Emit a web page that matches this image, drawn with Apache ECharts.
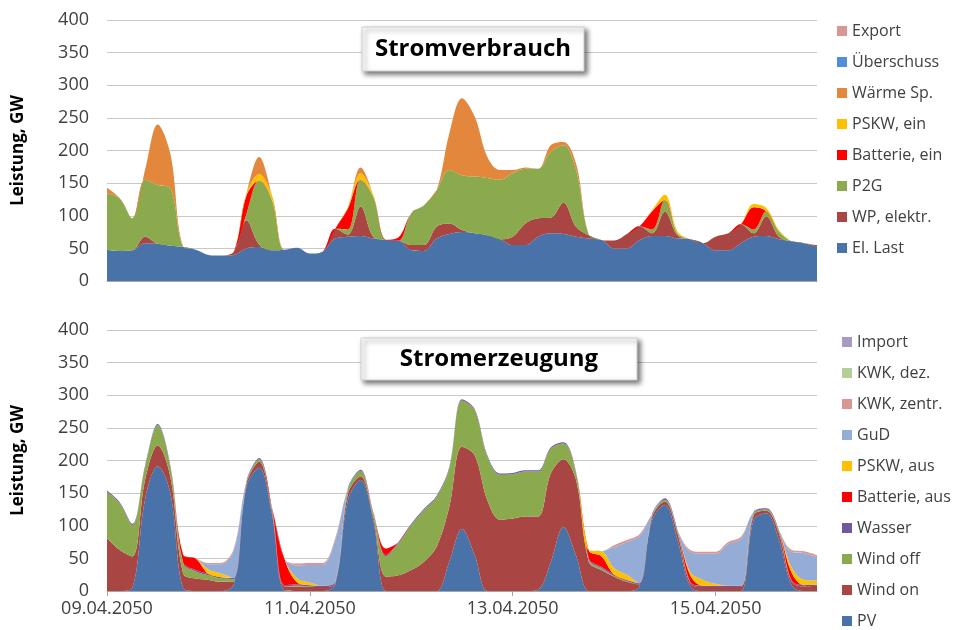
<!DOCTYPE html>
<html>
<head>
<meta charset="utf-8">
<title>Stromverbrauch / Stromerzeugung</title>
<script src="https://cdn.jsdelivr.net/npm/echarts@6.0.0/dist/echarts.min.js"></script>
<style>
  html, body { margin: 0; padding: 0; background: #fff; }
  #chart { width: 958px; height: 630px; }
</style>
</head>
<body>
<div id="chart"></div>
<script>
// Stundenwerte im 3h-Raster, 09.04.2050 00:00 bis 16.04.2050 00:00 (je Zeile ein Tag)
const dateLabels = ['09.04.2050', '11.04.2050', '13.04.2050', '15.04.2050'];
const hours = [];
for (let h = 0; h <= 168; h += 3) hours.push(h);

// --- Stromverbrauch (GW)
const elLast = [
  48, 46, 47, 58, 57, 54, 52, 48,
  40, 39, 40, 50, 52, 47, 48, 51,
  42, 45, 65, 68, 69, 65, 63, 62,
  47, 46, 65, 72, 75, 73, 70, 64,
  55, 55, 68, 73, 72, 68, 65, 63,
  50, 50, 63, 69, 69, 65, 64, 58,
  47, 47, 58, 68, 69, 64, 61, 58,
  53];
const wpElektr = [
  0, 0, 0, 10, 0, 0, 0, 0,
  0, 0, 5, 43, 4, 0, 0, 0,
  0, 0, 15, 3, 45, 3, 0, 0,
  8, 9, 18, 16, 3, 0, 0, 0,
  13, 33, 28, 24, 48, 15, 5, 0,
  12, 22, 21, 4, 37, 5, 0, 0,
  21, 26, 29, 5, 30, 4, 0, 0,
  2];
const p2g = [
  86, 81, 49, 87, 90, 88, 1, 0,
  0, 0, 0, 10, 98, 78, 0, 0,
  0, 0, 0, 8, 41, 61, 0, 0,
  49, 61, 56, 82, 84, 87, 88, 91,
  97, 84, 76, 101, 88, 87, 1, 0,
  0, 0, 0, 6, 18, 3, 0, 0,
  0, 0, 0, 6, 8, 8, 0, 0,
  0];
const batterieEin = [
  0, 0, 0, 0, 0, 0, 0, 0,
  0, 0, 0, 28, 0, 0, 0, 0,
  0, 0, 0, 32, 0, 0, 0, 5,
  0, 0, 0, 0, 0, 0, 0, 0,
  0, 0, 0, 0, 0, 0, 0, 0,
  0, 0, 0, 28, 0, 0, 0, 0,
  0, 0, 0, 34, 0, 0, 0, 0,
  0];
const pskwEin = [
  0, 0, 0, 0, 0, 0, 0, 0,
  0, 0, 0, 3, 10, 7, 0, 0,
  0, 0, 0, 2, 10, 3, 0, 0,
  0, 0, 0, 0, 0, 0, 0, 0,
  0, 0, 0, 0, 0, 0, 0, 0,
  0, 0, 0, 2, 8, 3, 0, 0,
  0, 0, 0, 5, 5, 2, 0, 0,
  0];
const waermeSp = [
  9, 0, 0, 15, 93, 53, 0, 0,
  0, 0, 0, 0, 26, 0, 0, 0,
  0, 0, 0, 0, 9, 0, 0, 0,
  0, 0, 0, 56, 118, 92, 32, 15,
  5, 2, 0, 10, 5, 10, 0, 0,
  0, 0, 0, 0, 0, 0, 0, 0,
  0, 0, 0, 0, 0, 0, 0, 0,
  0];
const ueberschuss = [
  0, 0, 0, 0, 0, 0, 0, 0,
  0, 0, 0, 0, 0, 0, 0, 0,
  0, 0, 0, 0, 0, 0, 0, 0,
  0, 0, 0, 0, 0, 0, 0, 0,
  0, 0, 0, 0, 0, 0, 0, 0,
  0, 0, 0, 0, 0, 0, 0, 0,
  0, 0, 0, 0, 0, 0, 0, 0,
  0];
const exportLast = [
  0, 0, 0, 0, 0, 0, 0, 0,
  0, 0, 0, 0, 0, 0, 0, 0,
  0, 0, 0, 0, 0, 0, 0, 0,
  0, 0, 0, 0, 0, 0, 0, 0,
  0, 0, 0, 0, 0, 0, 0, 0,
  0, 0, 0, 0, 0, 0, 0, 0,
  0, 0, 0, 0, 0, 0, 0, 0,
  0];

// --- Stromerzeugung (GW)
const pv = [
  0, 0, 5, 140, 191, 150, 5, 0,
  0, 0, 10, 160, 189, 119, 1, 0,
  0, 0, 10, 139, 170, 109, 0, 0,
  0, 0, 0, 45, 95, 55, 0, 0,
  0, 0, 2, 44, 98, 54, 0, 0,
  0, 0, 7, 109, 132, 78, 7, 0,
  0, 0, 0, 109, 119, 78, 9, 0,
  0];
const windOn = [
  81, 63, 48, 30, 32, 25, 22, 19,
  17, 14, 5, 4, 9, 5, 6, 7,
  6, 6, 2, 10, 6, 5, 22, 24,
  32, 45, 68, 84, 126, 153, 139, 109,
  111, 114, 112, 136, 104, 116, 45, 32,
  22, 14, 3, 5, 5, 10, 5, 6,
  6, 6, 6, 7, 4, 10, 5, 7,
  8];
const windOff = [
  71, 71, 48, 20, 31, 15, 15, 11,
  7, 5, 3, 2, 4, 3, 0, 1,
  1, 0, 0, 6, 8, 5, 31, 49,
  69, 79, 76, 59, 71, 69, 67, 69,
  68, 69, 69, 38, 24, 10, 3, 3,
  1, 1, 0, 2, 3, 3, 0, 0,
  0, 0, 0, 3, 2, 3, 0, 0,
  0];
const wasser = [
  2, 2, 2, 2, 2, 2, 2, 2,
  2, 2, 2, 2, 2, 2, 2, 2,
  2, 2, 2, 2, 2, 2, 2, 2,
  2, 2, 2, 2, 2, 2, 2, 2,
  2, 2, 2, 2, 2, 2, 2, 2,
  2, 2, 2, 2, 2, 2, 2, 2,
  2, 2, 2, 2, 2, 2, 2, 2,
  2];
const batterieAus = [
  0, 0, 0, 0, 0, 0, 12, 18,
  0, 0, 0, 0, 0, 0, 40, 3,
  0, 0, 0, 0, 0, 0, 10, 0,
  0, 0, 0, 0, 0, 0, 0, 0,
  0, 0, 0, 0, 0, 0, 12, 16,
  0, 0, 0, 0, 0, 0, 10, 0,
  0, 0, 0, 0, 0, 0, 12, 0,
  0];
const pskwAus = [
  0, 0, 0, 0, 0, 0, 0, 0,
  7, 6, 0, 0, 0, 0, 0, 6,
  4, 0, 0, 0, 0, 0, 0, 0,
  0, 0, 0, 0, 0, 0, 0, 0,
  0, 0, 0, 0, 0, 0, 0, 8,
  10, 8, 0, 0, 0, 0, 5, 9,
  3, 0, 0, 0, 0, 0, 8, 8,
  6];
const gud = [
  0, 0, 0, 0, 0, 0, 0, 0,
  8, 14, 42, 0, 0, 0, 0, 20,
  27, 32, 64, 0, 0, 0, 0, 0,
  0, 0, 0, 0, 0, 0, 0, 0,
  0, 0, 0, 0, 0, 0, 0, 0,
  32, 50, 72, 0, 0, 0, 31, 40,
  46, 64, 72, 0, 0, 0, 24, 41,
  36];
const kwkZentr = [
  0, 0, 0, 0, 0, 0, 0, 0,
  2, 2, 3, 0, 0, 0, 0, 3,
  3, 3, 3, 0, 0, 0, 0, 0,
  0, 0, 0, 0, 0, 0, 0, 0,
  0, 0, 0, 0, 0, 0, 0, 0,
  3, 3, 3, 0, 0, 0, 3, 3,
  3, 3, 3, 0, 0, 0, 3, 3,
  3];
const kwkDez = [
  0, 0, 0, 0, 0, 0, 0, 0,
  0, 0, 0, 0, 0, 0, 0, 0,
  0, 0, 0, 0, 0, 0, 0, 0,
  0, 0, 0, 0, 0, 0, 0, 0,
  0, 0, 0, 0, 0, 0, 0, 0,
  0, 0, 0, 0, 0, 0, 0, 0,
  0, 0, 0, 0, 0, 0, 0, 0,
  0];
const importErz = [
  0, 0, 0, 0, 0, 0, 0, 0,
  0, 0, 0, 0, 0, 0, 0, 0,
  0, 0, 0, 0, 0, 0, 0, 0,
  0, 0, 0, 0, 0, 0, 0, 0,
  0, 0, 0, 0, 0, 0, 0, 0,
  0, 0, 0, 0, 0, 0, 0, 0,
  0, 0, 0, 0, 0, 0, 0, 0,
  0];

// Reihenfolge von unten nach oben gestapelt
const verbrauch = [
  { name: 'El. Last', data: elLast, color: '#4872A8' },
  { name: 'WP, elektr.', data: wpElektr, color: '#A94543' },
  { name: 'P2G', data: p2g, color: '#8BAA4E' },
  { name: 'Batterie, ein', data: batterieEin, color: '#FF0000' },
  { name: 'PSKW, ein', data: pskwEin, color: '#FFC000' },
  { name: 'Wärme Sp.', data: waermeSp, color: '#E2873B' },
  { name: 'Überschuss', data: ueberschuss, color: '#4F8FDB' },
  { name: 'Export', data: exportLast, color: '#D99694' }
];
const erzeugung = [
  { name: 'PV', data: pv, color: '#4872A8' },
  { name: 'Wind on', data: windOn, color: '#A94543' },
  { name: 'Wind off', data: windOff, color: '#8BAA4E' },
  { name: 'Wasser', data: wasser, color: '#70589F' },
  { name: 'Batterie, aus', data: batterieAus, color: '#FF0000' },
  { name: 'PSKW, aus', data: pskwAus, color: '#FFC000' },
  { name: 'GuD', data: gud, color: '#94ACD6' },
  { name: 'KWK, zentr.', data: kwkZentr, color: '#D99694' },
  { name: 'KWK, dez.', data: kwkDez, color: '#B3CF96' },
  { name: 'Import', data: importErz, color: '#A79BC4' }
];

const FONT = '"Open Sans", "Noto Sans", sans-serif';
const textColor = '#404040';

function makeSeries(list, idx, stack) {
  return list.map(s => ({
    name: s.name,
    type: 'line',
    stack: stack,
    xAxisIndex: idx,
    yAxisIndex: idx,
    data: s.data,
    symbol: 'none',
    smooth: 0.35,
    lineStyle: { width: 0 },
    itemStyle: { color: s.color },
    areaStyle: { color: s.color, opacity: 1 }
  }));
}

function yAxis(idx) {
  return {
    gridIndex: idx,
    type: 'value',
    min: 0,
    max: 400,
    interval: 50,
    name: 'Leistung, GW',
    nameLocation: 'middle',
    nameGap: 80,
    nameTextStyle: { fontFamily: FONT, fontWeight: 'bold', fontSize: 17, color: '#000' },
    axisLine: { show: false },
    axisTick: { show: false },
    axisLabel: { fontFamily: FONT, fontSize: 18, color: textColor, margin: 18 },
    splitLine: { lineStyle: { color: '#C8C8C8', width: 1 } }
  };
}

function legend(list, left, top) {
  return {
    data: list.map(s => s.name).reverse(),
    orient: 'vertical',
    left: left,
    top: top,
    height: 320,
    icon: 'rect',
    itemWidth: 10,
    itemHeight: 10,
    itemGap: 15,
    selectedMode: false,
    textStyle: { fontFamily: FONT, fontSize: 16, lineHeight: 16, color: textColor }
  };
}

function titleBox(x, y, w, h, text) {
  return [
    {
      type: 'rect',
      z: 100,
      shape: { x: x, y: y, width: w, height: h },
      style: {
        fill: '#fff', stroke: '#D0D0D0', lineWidth: 1,
        shadowBlur: 5, shadowOffsetX: 3, shadowOffsetY: 3, shadowColor: 'rgba(0,0,0,0.55)'
      }
    },
    {
      type: 'text',
      z: 101,
      x: x + w / 2,
      y: y + h / 2,
      style: {
        text: text,
        align: 'center', verticalAlign: 'middle',
        font: 'bold 24px ' + FONT, fill: '#000',
        shadowBlur: 0, shadowColor: 'transparent'
      }
    }
  ];
}

const chart = echarts.init(document.getElementById('chart'), null, { renderer: 'canvas' });
const isDateTick = (i) => i % 16 === 0;

chart.setOption({
  animation: false,
  backgroundColor: '#fff',
  grid: [
    { left: 107, right: 141, top: 20, height: 261 },
    { left: 107, right: 141, top: 330, height: 261 }
  ],
  xAxis: [
    {
      gridIndex: 0, type: 'category', boundaryGap: false, data: hours,
      axisLabel: { show: false }, axisTick: { show: false },
      axisLine: { lineStyle: { color: '#A6A6A6' } }
    },
    {
      gridIndex: 1, type: 'category', boundaryGap: false, data: hours,
      axisLine: { lineStyle: { color: '#A6A6A6' } },
      axisTick: { interval: isDateTick, length: 5, lineStyle: { color: '#A6A6A6' } },
      axisLabel: {
        interval: isDateTick,
        formatter: (v, i) => dateLabels[i / 16],
        fontFamily: FONT, fontSize: 18, color: textColor, margin: 9
      }
    }
  ],
  yAxis: [yAxis(0), yAxis(1)],
  legend: [legend(verbrauch, 832, 18), legend(erzeugung, 837, 329)],
  graphic: titleBox(362, 27, 222, 44, 'Stromverbrauch').concat(titleBox(361, 338, 276, 42, 'Stromerzeugung')),
  series: makeSeries(verbrauch, 0, 'verbrauch').concat(makeSeries(erzeugung, 1, 'erzeugung'))
});
</script>
</body>
</html>
